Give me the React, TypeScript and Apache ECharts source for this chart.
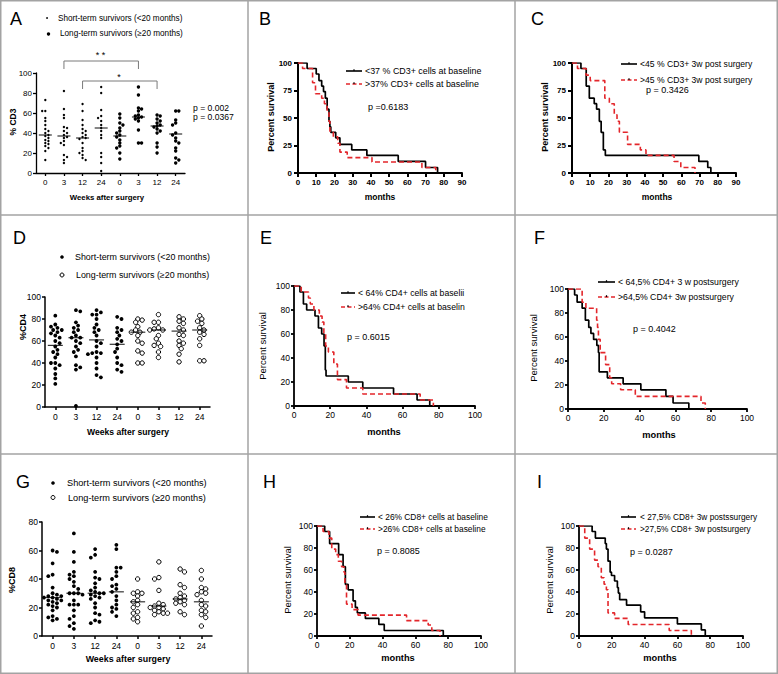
import React, { useEffect, useRef } from "react";
import * as echarts from "echarts";

const FONT = "'Liberation Sans', Arial, Helvetica, sans-serif";

// ---------------- tick labels ----------------
const weekLabels = ["0", "3", "12", "24", "0", "3", "12", "24"];

// ---------------- Panel A : % CD3 ----------------
const cd3Values = [
  [73, 62, 62, 55, 52, 48, 44, 42, 40, 38, 37, 35, 33, 32, 30, 29, 27, 25, 22, 13],
  [82, 64, 58, 55, 46, 45, 42, 40, 38, 36, 35, 32, 30, 28, 18, 16, 13, 10],
  [69, 62, 53, 48, 44, 42, 40, 38, 36, 35, 34, 30, 25, 22, 20, 18, 15, 13],
  [86, 80, 63, 57, 55, 52, 48, 45, 42, 38, 35, 20, 16, 10, 2],
  [59, 55, 50, 48, 45, 42, 40, 38, 36, 33, 30, 27, 25, 20, 14],
  [86, 78, 65, 64, 62, 58, 57, 56, 55, 54, 52, 43, 30, 30],
  [58, 57, 54, 52, 50, 48, 47, 46, 44, 42, 40, 30, 26, 20],
  [62, 62, 53, 50, 48, 40, 38, 35, 32, 30, 25, 22, 15, 13, 10],
];
const cd3Means = [38, 37, 35, 45, 37, 56, 47, 39];

// ---------------- Panel D : % CD4 ----------------
const cd4Values = [
  [83, 75, 73, 72, 70, 70, 68, 67, 65, 63, 60, 58, 55, 52, 50, 48, 45, 40, 40, 38, 35, 30, 26, 21],
  [88, 87, 77, 74, 72, 70, 68, 65, 63, 63, 60, 58, 55, 52, 50, 46, 38, 36, 34, 1],
  [88, 86, 84, 84, 80, 75, 72, 70, 68, 65, 60, 58, 55, 50, 49, 49, 48, 45, 40, 35, 29, 27],
  [82, 80, 72, 70, 68, 65, 62, 60, 57, 53, 50, 45, 40, 38, 34, 32],
  [80, 79, 77, 73, 70, 68, 68, 65, 60, 58, 51, 49, 40, 40],
  [84, 77, 77, 72, 71, 70, 70, 65, 62, 58, 56, 55, 50, 45],
  [82, 80, 78, 76, 72, 70, 66, 65, 60, 58, 56, 53, 48, 41],
  [83, 80, 78, 76, 72, 70, 68, 66, 62, 56, 42, 42],
];
const cd4Means = [56, 63, 61, 57, 68, 70, 69, 70];

// ---------------- Panel G : % CD8 ----------------
const cd8Values = [
  [60, 59, 51, 43, 42, 34, 30, 29, 28, 28, 27, 27, 26, 25, 25, 24, 23, 22, 21, 20, 18, 14, 13, 12, 11],
  [72, 59, 52, 45, 43, 42, 40, 38, 35, 33, 30, 30, 30, 29, 25, 22, 22, 22, 18, 14, 12, 9, 7, 5],
  [61, 57, 55, 45, 41, 40, 37, 34, 32, 31, 30, 30, 29, 28, 27, 26, 23, 20, 16, 15, 11, 10, 9],
  [64, 61, 48, 48, 45, 42, 40, 36, 35, 33, 31, 28, 25, 22, 20, 19, 17, 14],
  [40, 31, 30, 30, 28, 25, 24, 22, 20, 17, 16, 13, 12, 10],
  [52, 41, 40, 32, 23, 22, 21, 20, 20, 19, 18, 17, 16, 16, 15],
  [47, 45, 36, 34, 30, 28, 27, 26, 25, 24, 23, 22, 17, 15],
  [46, 40, 34, 33, 31, 30, 29, 25, 22, 21, 18, 17, 15, 13, 7],
];
const cd8Means = [27, 30, 30, 31, 24, 21, 26, 24];

// ---------------- Kaplan-Meier curves [months, % survival] ----------------
const kmB_low = [[0, 100], [5, 95], [10, 90], [11.5, 84], [13, 79], [14, 74], [15, 68], [16, 58], [17, 47], [17.5, 42], [18, 37], [20.7, 32], [23, 26], [29.5, 21], [37.8, 16], [55, 10.5], [70, 5], [76.6, 0]];
const kmB_high = [[0, 100], [2.5, 95], [8, 82], [9.6, 72], [13, 68], [14.5, 63], [16, 55], [17, 47], [17.5, 38], [19.4, 33], [21.8, 27], [23, 19], [27, 14], [40.6, 10], [68, 5], [75.6, 0]];

const kmC_low = [[0, 100], [4.9, 95], [7.8, 79], [9.5, 68], [12.2, 63], [13.5, 58], [15, 47], [16, 37], [17.2, 21], [18.3, 16], [69.6, 10.5], [74.5, 5], [76.2, 0]];
const kmC_high = [[0, 100], [3, 95], [7.7, 89], [10, 84], [18, 68], [20.5, 63], [23.2, 53], [24.7, 47], [26, 37], [30.5, 26], [37.5, 21], [40.6, 16], [56, 10.5], [59.7, 5], [67.5, 0]];

const kmE_low = [[0, 100], [3.3, 95], [5.2, 85], [7, 80], [11.6, 75], [13.5, 65], [15.3, 60], [16.6, 50], [17.3, 30], [17.7, 25], [30, 20], [38, 15], [55, 10], [68, 5], [75, 0]];
const kmE_high = [[0, 100], [4, 95], [8, 90], [9, 85], [11, 80], [14, 75], [15.5, 70], [16.5, 60], [17.5, 50], [19, 45], [22, 35], [24, 22], [29, 15], [38, 10], [69.7, 5], [77, 0]];

const kmF_low = [[0, 100], [3.7, 95], [5.1, 89], [7.9, 84], [9.7, 74], [11.6, 68], [12.8, 63], [14.3, 58], [16.1, 53], [17, 47], [17.4, 31], [22, 26], [30.8, 21], [40.7, 16], [54.7, 10.5], [58.7, 5], [67.5, 0]];
const kmF_high = [[0, 100], [7.9, 89], [10, 84], [16, 74], [16.5, 68], [17, 58], [18, 47], [21, 37], [23.3, 26], [24.4, 21], [29.4, 16], [37.6, 10.5], [74.3, 5], [76.7, 0]];

const kmH_low = [[0, 100], [4.7, 95], [7.7, 84], [13.2, 74], [15.9, 63], [17.3, 47], [19, 42], [22, 32], [23.4, 26], [24.6, 21], [29.5, 16], [37.7, 10.5], [41, 5], [77, 0]];
const kmH_high = [[0, 100], [3.7, 95], [7.3, 89], [9, 79], [11.4, 74], [13, 68], [15, 63], [16.5, 58], [17, 47], [18, 29], [21.4, 24], [25, 19], [54.6, 14], [67.8, 10], [70, 5], [75, 0]];

const kmI_low = [[0, 100], [8, 95], [10, 89], [16, 84], [16.7, 79], [17.7, 68], [19, 58], [19.8, 55], [21.7, 50], [23.4, 44], [24, 39], [24.8, 33], [29, 28], [37.6, 22], [40, 16.5], [60, 11], [74.6, 5.5], [77, 0]];
const kmI_high = [[0, 100], [3.5, 89], [6.5, 79], [9.5, 69], [11.6, 63], [13.6, 53], [15.3, 47], [16.7, 42], [17.7, 21], [21.7, 16], [30, 10.5], [55, 5], [68.5, 0]];

// ---------------- layout ----------------
const GRIDS = [
  { left: 36, top: 73, width: 149, height: 100 }, // A
  { left: 298, top: 63, width: 164, height: 110 }, // B
  { left: 572, top: 63, width: 164, height: 110 }, // C
  { left: 45, top: 297, width: 165, height: 110 }, // D
  { left: 294, top: 286, width: 181, height: 120 }, // E
  { left: 568, top: 289, width: 179, height: 120 }, // F
  { left: 42, top: 522, width: 170, height: 114 }, // G
  { left: 317, top: 526, width: 164, height: 110 }, // H
  { left: 579, top: 526, width: 164, height: 110 }, // I
];

const RED = "#e3262b";

function swarm(vals: number[], pxPerY: number, d: number): number[] {
  const order = vals.map((_, i) => i).sort((a, b) => vals[b] - vals[a]);
  const placed: { x: number; y: number }[] = [];
  const offs = new Array(vals.length).fill(0);
  const step = d * 0.6;
  order.forEach((i, n) => {
    const y = vals[i] * pxPerY;
    for (let k = 0; k < 60; k++) {
      const sign = (k + n) % 2 === 0 ? 1 : -1;
      const x = k === 0 ? 0 : sign * Math.ceil(k / 2) * step;
      const hit = placed.some((p) => Math.hypot(p.x - x, p.y - y) < d);
      if (!hit) {
        placed.push({ x, y });
        offs[i] = x;
        break;
      }
    }
  });
  return offs;
}

function axisCommon(width: number, fontSize: number, bold: boolean, margin: number, tickLen: number) {
  return {
    axisLine: { show: true, onZero: false, lineStyle: { color: "#000", width } },
    axisTick: { show: true, length: tickLen, lineStyle: { color: "#000", width } },
    axisLabel: {
      color: "#000",
      fontSize,
      fontFamily: FONT,
      fontWeight: bold ? "bold" : "normal",
      margin,
    },
    splitLine: { show: false },
  };
}

function App() {
  const ref = useRef<HTMLDivElement>(null);

  useEffect(() => {
    document.body.style.margin = "0";
    if (!ref.current) return;
    const chart = echarts.init(ref.current, null, { renderer: "svg" });

    const xAxes: any[] = [];
    const yAxes: any[] = [];
    const series: any[] = [];
    const graphics: any[] = [];

    // ---- scatter panels (A, D, G) ----
    const scatterCfg = [
      { g: 0, vals: cd3Values, means: cd3Means, ymax: 100, yint: 20, shortSize: 2.4, longSize: 3.4, hollow: false, meanW: 13, font: 8, lw: 1.3, sep: 2.6 },
      { g: 3, vals: cd4Values, means: cd4Means, ymax: 100, yint: 20, shortSize: 3.8, longSize: 4.4, hollow: true, meanW: 15, font: 8.5, lw: 1.5, sep: 3.6 },
      { g: 6, vals: cd8Values, means: cd8Means, ymax: 80, yint: 20, shortSize: 3.8, longSize: 4.4, hollow: true, meanW: 15, font: 8.5, lw: 1.5, sep: 3.6 },
    ];

    // ---- KM panels ----
    const kmCfg = [
      { g: 1, low: kmB_low, high: kmB_high, xmax: 90, xint: 10, yint: 25, bold: true, font: 8 },
      { g: 2, low: kmC_low, high: kmC_high, xmax: 90, xint: 10, yint: 25, bold: true, font: 8 },
      { g: 4, low: kmE_low, high: kmE_high, xmax: 100, xint: 20, yint: 20, bold: false, font: 8.5 },
      { g: 5, low: kmF_low, high: kmF_high, xmax: 100, xint: 20, yint: 20, bold: false, font: 8.5 },
      { g: 7, low: kmH_low, high: kmH_high, xmax: 100, xint: 20, yint: 20, bold: false, font: 8.5 },
      { g: 8, low: kmI_low, high: kmI_high, xmax: 100, xint: 20, yint: 20, bold: false, font: 8.5 },
    ];

    for (let g = 0; g < 9; g++) {
      const sc = scatterCfg.find((c) => c.g === g);
      const kc = kmCfg.find((c) => c.g === g);
      if (sc) {
        xAxes.push({
          gridIndex: g,
          type: "category",
          data: weekLabels.map((_, i) => "c" + i),
          ...axisCommon(sc.lw, sc.font, false, 5, 3),
          axisTick: { show: true, alignWithLabel: true, length: 3, lineStyle: { color: "#000", width: sc.lw } },
          axisLabel: {
            color: "#000",
            fontSize: sc.font,
            fontFamily: FONT,
            margin: 5,
            interval: 0,
            formatter: (_v: string, i: number) => weekLabels[i],
          },
        });
        yAxes.push({
          gridIndex: g,
          type: "value",
          min: 0,
          max: sc.ymax,
          interval: sc.yint,
          ...axisCommon(sc.lw, sc.font, false, 4, 3),
        });
      } else if (kc) {
        const lw = kc.bold ? 2 : 1.8;
        xAxes.push({
          gridIndex: g,
          type: "value",
          min: 0,
          max: kc.xmax,
          interval: kc.xint,
          ...axisCommon(lw, kc.font, kc.bold, kc.bold ? 5 : 4, kc.bold ? 4 : 3),
        });
        yAxes.push({
          gridIndex: g,
          type: "value",
          min: 0,
          max: 100,
          interval: kc.yint,
          ...axisCommon(lw, kc.font, kc.bold, kc.bold ? 6 : 4, kc.bold ? 4 : 3),
        });
      }
    }

    // hidden value x axes for jittered scatter
    scatterCfg.forEach((sc) => {
      const xi = xAxes.length;
      xAxes.push({ gridIndex: sc.g, type: "value", min: -0.5, max: 7.5, show: false });
      const grid = GRIDS[sc.g];
      const catW = grid.width / 8;
      const pxPerY = grid.height / sc.ymax;
      sc.vals.forEach((vals, i) => {
        const long = i >= 4;
        const size = long ? sc.longSize : sc.shortSize;
        const offs = swarm(vals, pxPerY, sc.sep);
        series.push({
          type: "scatter",
          xAxisIndex: xi,
          yAxisIndex: sc.g,
          symbol: "circle",
          symbolSize: size,
          silent: true,
          itemStyle:
            long && sc.hollow
              ? { color: "#fff", borderColor: "#000", borderWidth: 1, opacity: 1 }
              : { color: "#000", opacity: 1 },
          data: vals.map((v, k) => [i + offs[k] / catW, v]),
          z: 3,
        });
      });
      series.push({
        type: "scatter",
        xAxisIndex: xi,
        yAxisIndex: sc.g,
        symbol: "rect",
        symbolSize: [sc.meanW, 1.2],
        silent: true,
        itemStyle: { color: "#000" },
        data: sc.means.map((m, i) => [i, m]),
        z: 4,
      });
    });

    kmCfg.forEach((kc) => {
      series.push({
        type: "line",
        step: "end",
        xAxisIndex: kc.g,
        yAxisIndex: kc.g,
        data: kc.low,
        symbol: "none",
        silent: true,
        lineStyle: { color: "#000", width: 1.7 },
        z: 2,
      });
      series.push({
        type: "line",
        step: "end",
        xAxisIndex: kc.g,
        yAxisIndex: kc.g,
        data: kc.high,
        symbol: "none",
        silent: true,
        lineStyle: { color: RED, width: 1.6, type: [5, 3] },
        z: 3,
      });
    });

    // ---------------- graphics ----------------
    const txt = (x: number, y: number, text: string, size: number, o: any = {}) => ({
      type: "text",
      x,
      y,
      rotation: o.rot || 0,
      silent: true,
      z: 10,
      style: {
        text,
        fill: o.color || "#000",
        font: `${o.bold ? "bold " : ""}${size}px ${FONT}`,
        textAlign: o.align || "left",
        textVerticalAlign: "middle",
      },
    });
    const ln = (x1: number, y1: number, x2: number, y2: number, o: any = {}) => ({
      type: "line",
      silent: true,
      z: 10,
      shape: { x1, y1, x2, y2 },
      style: { stroke: o.color || "#000", lineWidth: o.w || 1, lineDash: o.dash || null },
    });

    // frame and dividers
    const FR = "#a3a3a3";
    graphics.push({
      type: "rect",
      silent: true,
      shape: { x: 0.75, y: 0.75, width: 776.5, height: 672.5 },
      style: { fill: "none", stroke: FR, lineWidth: 1.5 },
    });
    graphics.push(ln(248, 0, 248, 674, { color: FR, w: 1.5 }));
    graphics.push(ln(515, 0, 515, 674, { color: FR, w: 1.5 }));
    graphics.push(ln(0, 215, 778, 215, { color: FR, w: 1.5 }));
    graphics.push(ln(0, 454, 778, 454, { color: FR, w: 1.5 }));

    // panel letters
    const letters: [string, number, number][] = [
      ["A", 10, 19], ["B", 259, 19], ["C", 531, 19],
      ["D", 13, 238], ["E", 260, 238], ["F", 534, 238],
      ["G", 16, 482], ["H", 263, 482], ["I", 537, 482],
    ];
    letters.forEach(([t, x, y]) => graphics.push(txt(x, y, t, 18)));

    // scatter legends
    graphics.push({ type: "circle", silent: true, shape: { cx: 47, cy: 18, r: 0.9 }, style: { fill: "#000" } });
    graphics.push({ type: "circle", silent: true, shape: { cx: 48.5, cy: 34, r: 1.7 }, style: { fill: "#000" } });
    graphics.push(txt(58, 18, "Short-term survivors (<20 months)", 8.2));
    graphics.push(txt(60, 33.5, "Long-term survivors (\u226520 months)", 8.2));

    graphics.push({ type: "circle", silent: true, shape: { cx: 62, cy: 257, r: 1.8 }, style: { fill: "#000" } });
    graphics.push({ type: "circle", silent: true, shape: { cx: 62, cy: 275, r: 2 }, style: { fill: "#fff", stroke: "#000", lineWidth: 1 } });
    graphics.push(txt(75, 257, "Short-term survivors (<20 months)", 8.9));
    graphics.push(txt(76, 275, "Long-term survivors (\u226520 months)", 8.9));

    graphics.push({ type: "circle", silent: true, shape: { cx: 53, cy: 483, r: 1.8 }, style: { fill: "#000" } });
    graphics.push({ type: "circle", silent: true, shape: { cx: 53, cy: 497.5, r: 2 }, style: { fill: "#fff", stroke: "#000", lineWidth: 1 } });
    graphics.push(txt(67, 483, "Short-term survivors (<20 months)", 9.2));
    graphics.push(txt(68, 497.5, "Long-term survivors (\u226520 months)", 9.2));

    // significance brackets in A
    const gA = GRIDS[0];
    const cx = (i: number) => gA.left + (i + 0.5) * (gA.width / 8);
    const BR = "#7a7a7a";
    graphics.push({
      type: "polyline", silent: true,
      shape: { points: [[cx(1), 69], [cx(1), 61], [cx(5), 61], [cx(5), 69]] },
      style: { stroke: BR, lineWidth: 1, fill: "none" },
    });
    graphics.push({
      type: "polyline", silent: true,
      shape: { points: [[cx(2), 89], [cx(2), 81], [cx(6), 81], [cx(6), 89]] },
      style: { stroke: BR, lineWidth: 1, fill: "none" },
    });
    graphics.push(txt(100.5, 55, "* *", 9, { align: "center" }));
    graphics.push(txt(119, 77, "*", 9, { align: "center" }));
    graphics.push(txt(193, 108, "p = 0.002", 8.6));
    graphics.push(txt(193, 117, "p = 0.0367", 8.6));

    // KM legends
    const kmLeg: [number, number, number, number, number, string, string, number][] = [
      [346, 362, 365, 71, 84, "<37 % CD3+ cells at baseline", ">37% CD3+ cells at baseline", 8.9],
      [621, 637, 640, 64, 80, "<45 % CD3+ 3w post surgery", ">45 % CD3+ 3w post surgery", 8.6],
      [341, 355, 358, 293, 307, "< 64% CD4+ cells at baselii", ">64% CD4+ cells at baselin", 8.7],
      [598, 615, 618, 282, 297, "< 64,5% CD4+ 3 w postsurgery", ">64,5% CD4+ 3w postsurgery", 8.7],
      [360, 375, 378, 517, 529, "< 26% CD8+ cells at baseline", ">26% CD8+ cells at baseline", 8.4],
      [621, 636, 640, 517, 529, "< 27,5% CD8+ 3w postssurgery", ">27,5% CD8+ 3w postsurgery", 8.3],
    ];
    kmLeg.forEach(([x1, x2, tx, y1, y2, t1, t2, fs]) => {
      const m = (x1 + x2) / 2;
      graphics.push(ln(x1, y1, x2, y1, { w: 1.6 }));
      graphics.push(ln(m, y1 - 1.8, m, y1, { w: 1.2 }));
      graphics.push(ln(x1, y2, x2, y2, { w: 1.6, color: RED, dash: [4, 2.5] }));
      graphics.push(ln(m, y2 - 1.8, m, y2, { w: 1.2 }));
      graphics.push(txt(tx, y1, t1, fs));
      graphics.push(txt(tx, y2, t2, fs));
    });

    // p values
    const pv: [number, number, string][] = [
      [368, 107, "p =0.6183"], [646, 90, "p = 0.3426"], [347, 337, "p = 0.6015"],
      [633, 329, "p = 0.4042"], [377, 551, "p = 0.8085"], [630, 552, "p = 0.0287"],
    ];
    pv.forEach(([x, y, t]) => graphics.push(txt(x, y, t, 9)));

    // axis titles
    const R = Math.PI / 2;
    graphics.push(txt(13, 122, "% CD3", 8.5, { bold: true, rot: R, align: "center" }));
    graphics.push(txt(107, 197, "Weeks after surgery", 7.8, { bold: true, align: "center" }));
    graphics.push(txt(271, 117, "Percent survival", 9, { bold: true, rot: R, align: "center" }));
    graphics.push(txt(380, 197, "months", 8.5, { bold: true, align: "center" }));
    graphics.push(txt(545, 117, "Percent survival", 9, { bold: true, rot: R, align: "center" }));
    graphics.push(txt(657, 197, "months", 8.5, { bold: true, align: "center" }));

    graphics.push(txt(23, 327, "%CD4", 9, { bold: true, rot: R, align: "center" }));
    graphics.push(txt(128, 432, "Weeks after surgery", 8.6, { bold: true, align: "center" }));
    graphics.push(txt(262, 346, "Percent survival", 9.5, { rot: R, align: "center" }));
    graphics.push(txt(384, 432, "months", 9.3, { bold: true, align: "center" }));
    graphics.push(txt(533, 348, "Percent survival", 9.5, { rot: R, align: "center" }));
    graphics.push(txt(659, 435, "months", 9.3, { bold: true, align: "center" }));

    graphics.push(txt(12, 580, "%CD8", 9, { bold: true, rot: R, align: "center" }));
    graphics.push(txt(128, 659, "Weeks after surgery", 8.9, { bold: true, align: "center" }));
    graphics.push(txt(287, 580, "Percent survival", 9.5, { rot: R, align: "center" }));
    graphics.push(txt(398, 658, "months", 9.3, { bold: true, align: "center" }));
    graphics.push(txt(549, 580, "Percent survival", 9.5, { rot: R, align: "center" }));
    graphics.push(txt(660, 658, "months", 9.3, { bold: true, align: "center" }));

    chart.setOption({
      animation: false,
      backgroundColor: "#fff",
      grid: GRIDS.map((g) => ({ ...g, containLabel: false })),
      xAxis: xAxes,
      yAxis: yAxes,
      series,
      graphic: graphics,
    });

    return () => chart.dispose();
  }, []);

  return <div ref={ref} style={{ width: 778, height: 674 }} />;
}

export default App;
